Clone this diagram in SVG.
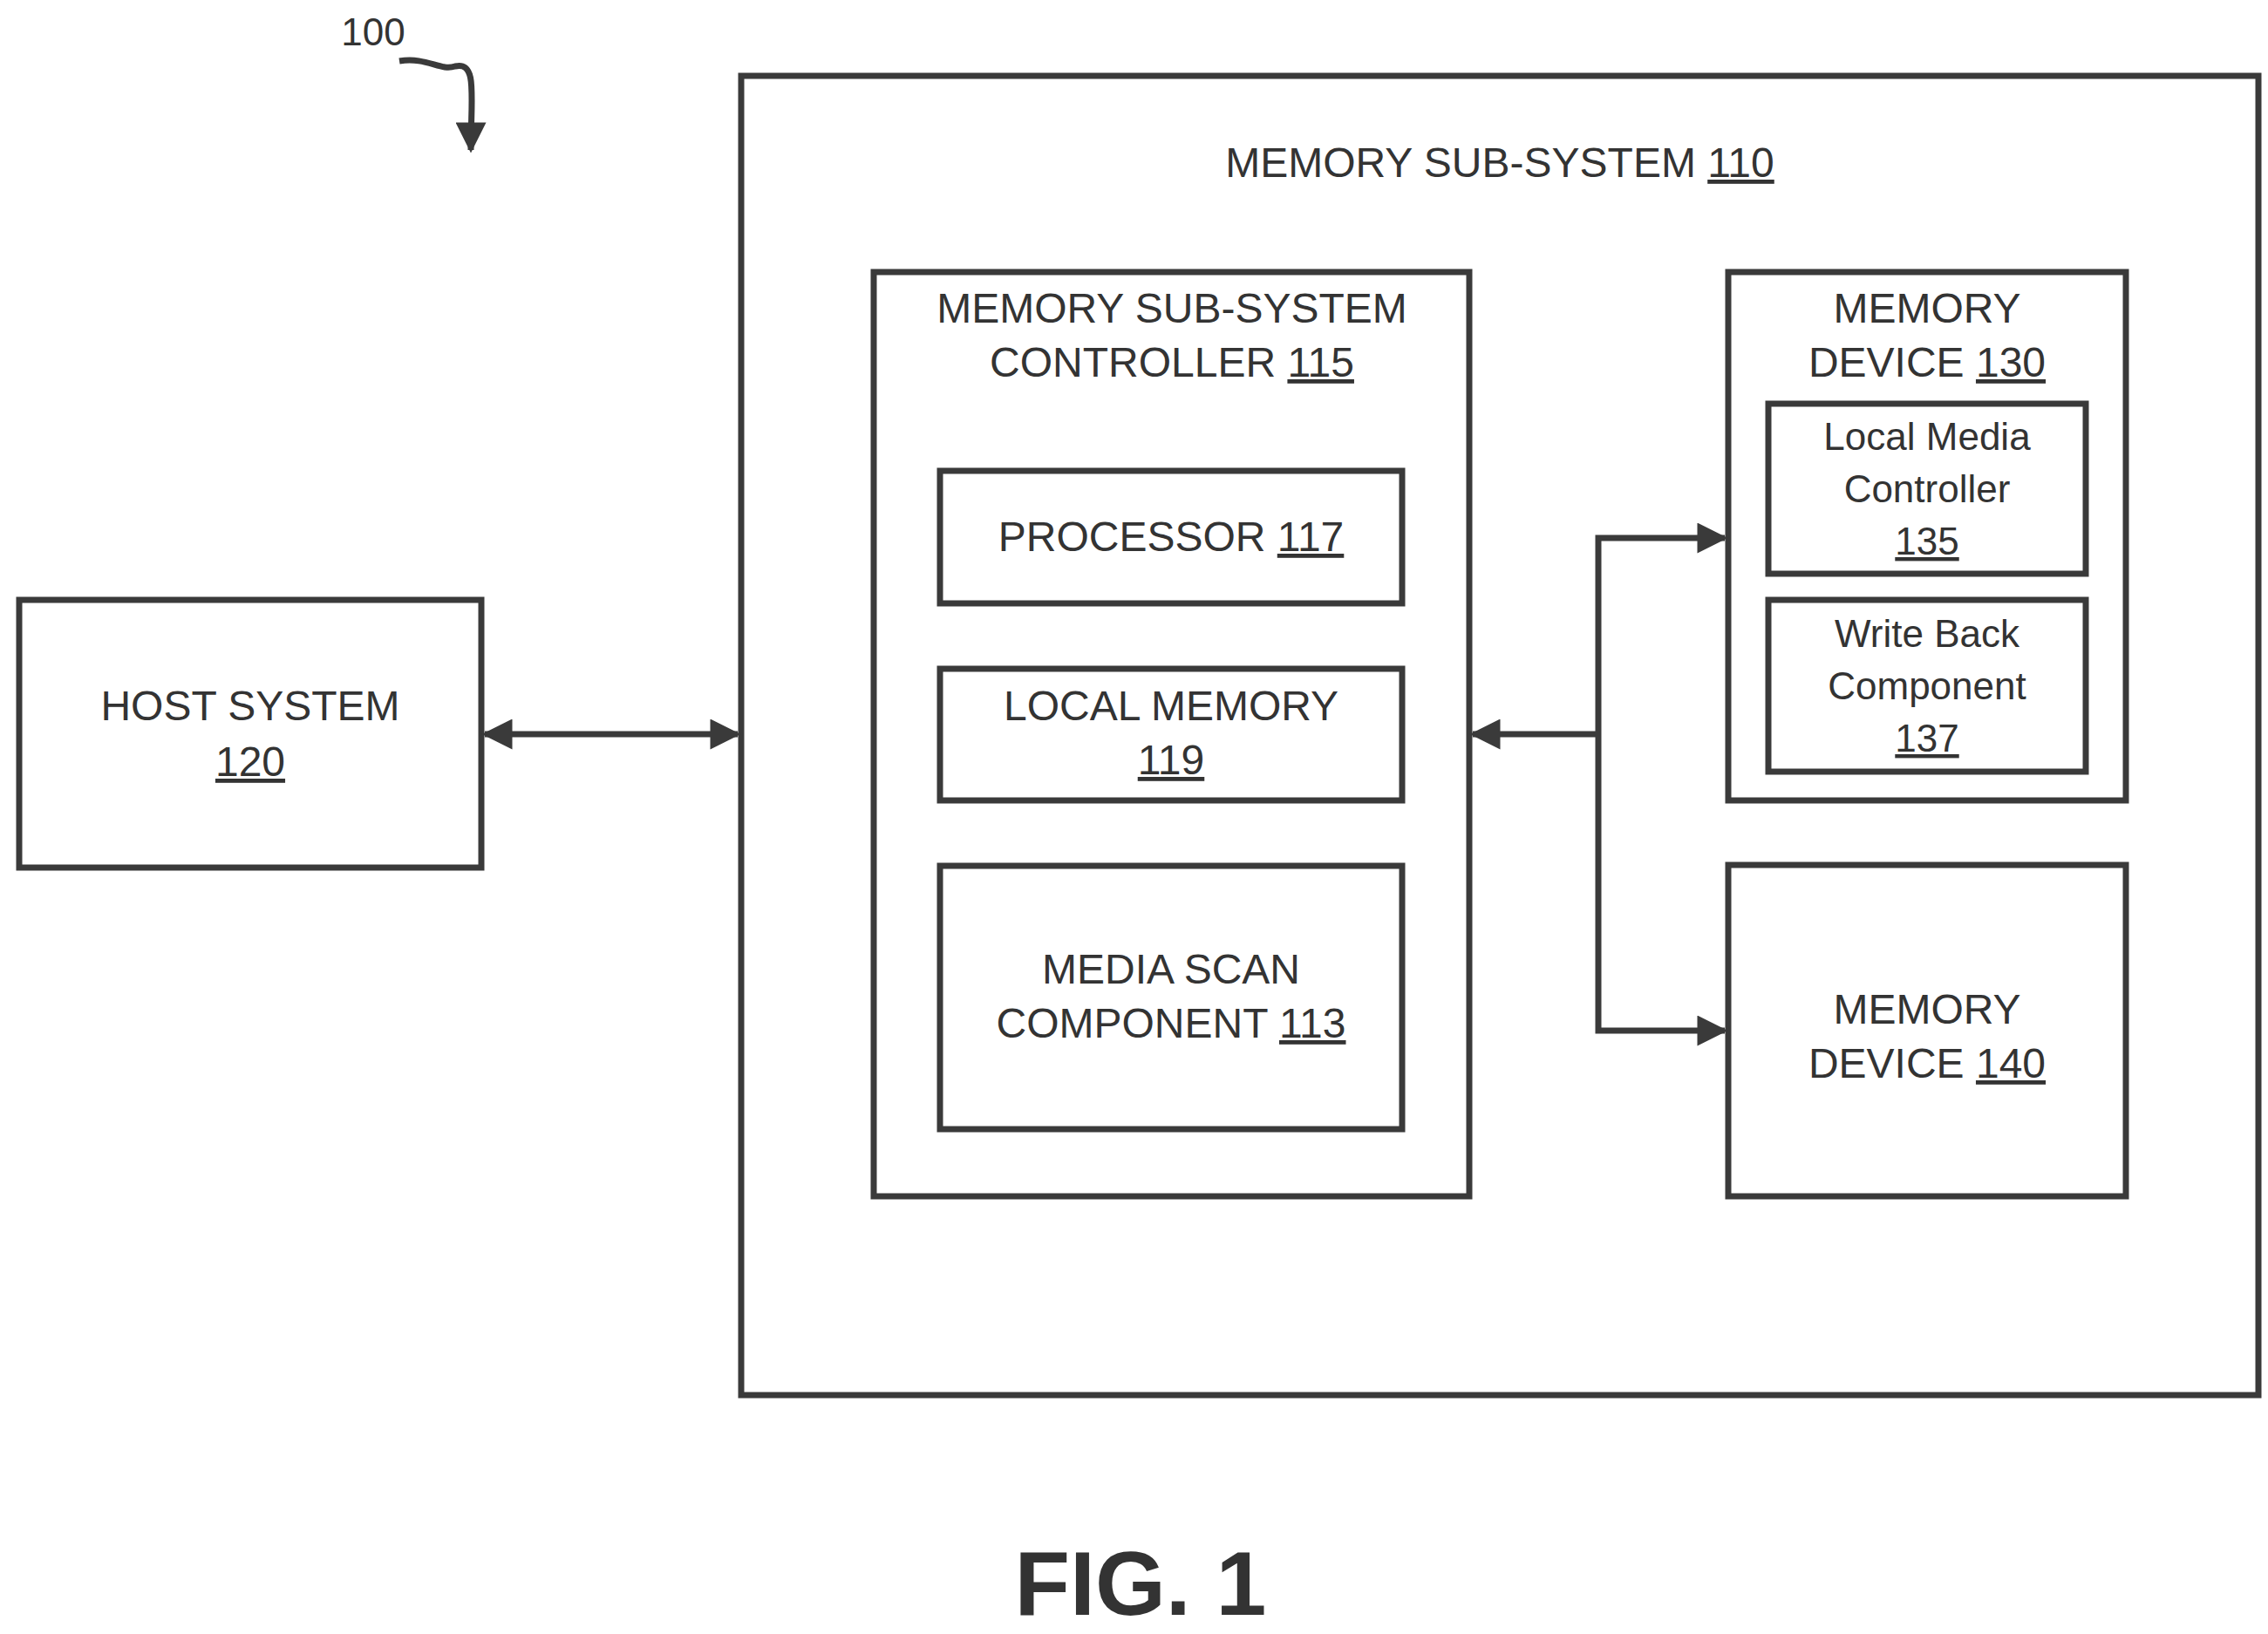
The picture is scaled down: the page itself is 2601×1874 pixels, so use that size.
<svg xmlns="http://www.w3.org/2000/svg" width="2601" height="1874" viewBox="0 0 2601 1874">
<style>
.b{fill:none;stroke:#3a3a3a;stroke-width:7}
.t{font-family:"Liberation Sans",Arial,sans-serif;font-size:48px;fill:#333;text-anchor:middle}
.s{font-size:44px}
.c{stroke:#3a3a3a;stroke-width:7;fill:none}
</style>
<defs>
<marker id="a" viewBox="0 0 10 10" refX="9" refY="5" markerWidth="6" markerHeight="5" orient="auto-start-reverse" markerUnits="strokeWidth"><path d="M0,0L10,5L0,10z" fill="#3a3a3a"/></marker>
</defs>
<rect width="2601" height="1874" fill="#fff"/>
<g id="label100">
<text x="428" y="52" class="t s">100</text>
<path d="M458,70 C490,65 505,82 522,76 C548,70 540,110 540,172" class="c" stroke-width="5" marker-end="url(#a)"/>
</g>
<g id="n110"><rect x="850" y="87" width="1740" height="1513" class="b"/><text x="1720" y="203" class="t">MEMORY SUB-SYSTEM <tspan text-decoration="underline">110</tspan></text></g>
<g id="n120"><rect x="22" y="688" width="530" height="307" class="b"/><text x="287" y="826" class="t">HOST SYSTEM</text><text x="287" y="890" class="t" text-decoration="underline">120</text></g>
<g id="n115"><rect x="1002" y="312" width="683" height="1060" class="b"/><text x="1344" y="370" class="t">MEMORY SUB-SYSTEM</text><text x="1344" y="432" class="t">CONTROLLER <tspan text-decoration="underline">115</tspan></text></g>
<g id="n117"><rect x="1078" y="540" width="530" height="152" class="b"/><text x="1343" y="632" class="t">PROCESSOR <tspan text-decoration="underline">117</tspan></text></g>
<g id="n119"><rect x="1078" y="767" width="530" height="151" class="b"/><text x="1343" y="826" class="t">LOCAL MEMORY</text><text x="1343" y="888" class="t" text-decoration="underline">119</text></g>
<g id="n113"><rect x="1078" y="993" width="530" height="302" class="b"/><text x="1343" y="1128" class="t">MEDIA SCAN</text><text x="1343" y="1190" class="t">COMPONENT <tspan text-decoration="underline">113</tspan></text></g>
<g id="n130"><rect x="1982" y="312" width="456" height="606" class="b"/><text x="2210" y="370" class="t">MEMORY</text><text x="2210" y="432" class="t">DEVICE <tspan text-decoration="underline">130</tspan></text></g>
<g id="n135"><rect x="2028" y="463" width="364" height="195" class="b"/><text x="2210" y="516" class="t s">Local Media</text><text x="2210" y="576" class="t s">Controller</text><text x="2210" y="636" class="t s" text-decoration="underline">135</text></g>
<g id="n137"><rect x="2028" y="688" width="364" height="197" class="b"/><text x="2210" y="742" class="t s">Write Back</text><text x="2210" y="802" class="t s">Component</text><text x="2210" y="862" class="t s" text-decoration="underline">137</text></g>
<g id="n140"><rect x="1982" y="992" width="456" height="380" class="b"/><text x="2210" y="1174" class="t">MEMORY</text><text x="2210" y="1236" class="t">DEVICE <tspan text-decoration="underline">140</tspan></text></g>
<g id="connectors">
<line x1="556" y1="842" x2="846" y2="842" class="c" marker-start="url(#a)" marker-end="url(#a)"/>
<line x1="1833" y1="842" x2="1689" y2="842" class="c" marker-end="url(#a)"/>
<path d="M1978,617 H1833 V1182 H1978" class="c" marker-start="url(#a)" marker-end="url(#a)"/>
</g>
<text x="1308" y="1852" class="t" style="font-size:104px;font-weight:bold">FIG. 1</text>
</svg>
